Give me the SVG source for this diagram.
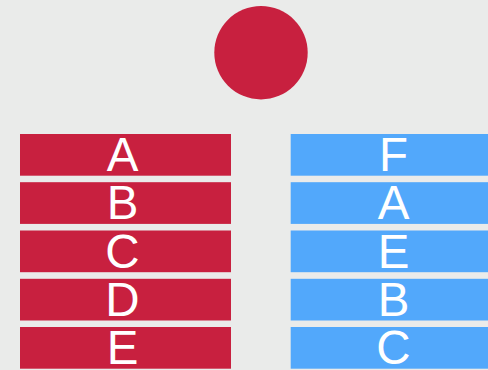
<svg xmlns="http://www.w3.org/2000/svg" width="488" height="370" viewBox="0 0 488 370">
<style>
.r{fill:#c8203f}
.b{fill:#52a8fb}
.t{fill:#ffffff;font-family:"Liberation Sans",Arial,sans-serif;font-size:47.5px;text-anchor:middle}
</style>
<rect width="488" height="370" fill="#eaebea"/>
<g id="circle"><circle cx="261" cy="52.7" r="46.7" class="r"/></g>
<g id="connectors"></g>
<g id="left">
<g id="l1"><rect x="20" y="134" width="211" height="41.7" class="r"/><text x="122.5" y="171" class="t">A</text></g>
<g id="l2"><rect x="20" y="182.2" width="211" height="41.7" class="r"/><text x="122.5" y="219.2" class="t">B</text></g>
<g id="l3"><rect x="20" y="230.5" width="211" height="41.7" class="r"/><text x="122.5" y="267.5" class="t">C</text></g>
<g id="l4"><rect x="20" y="278.8" width="211" height="41.7" class="r"/><text x="122.5" y="315.8" class="t">D</text></g>
<g id="l5"><rect x="20" y="327" width="211" height="41.7" class="r"/><text x="122.5" y="364" class="t">E</text></g>
</g>
<g id="right">
<g id="r1"><rect x="290.7" y="134" width="211" height="41.7" class="b"/><text x="393.5" y="171" class="t">F</text></g>
<g id="r2"><rect x="290.7" y="182.2" width="211" height="41.7" class="b"/><text x="393.5" y="219.2" class="t">A</text></g>
<g id="r3"><rect x="290.7" y="230.5" width="211" height="41.7" class="b"/><text x="393.5" y="267.5" class="t">E</text></g>
<g id="r4"><rect x="290.7" y="278.8" width="211" height="41.7" class="b"/><text x="393.5" y="315.8" class="t">B</text></g>
<g id="r5"><rect x="290.7" y="327" width="211" height="41.7" class="b"/><text x="393.5" y="364" class="t">C</text></g>
</g>
</svg>
